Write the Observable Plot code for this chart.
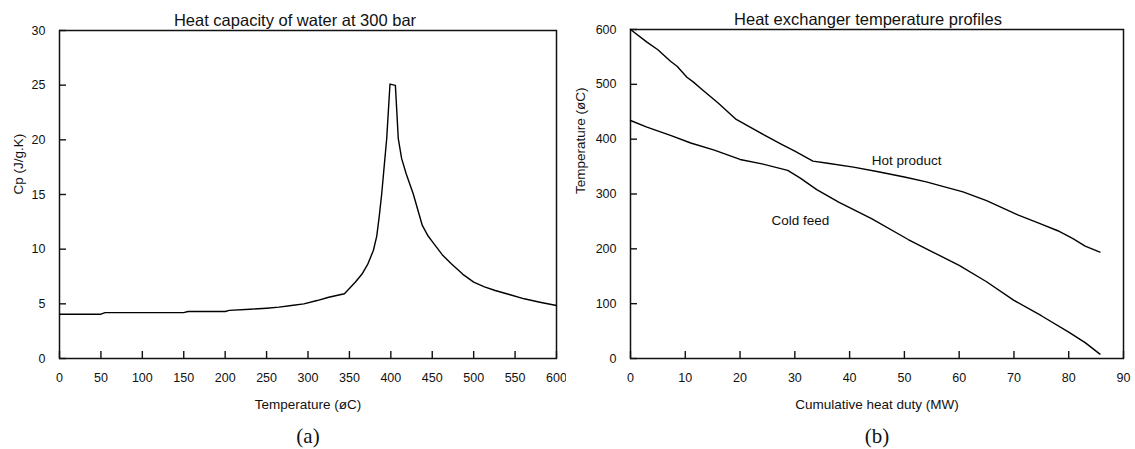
<!DOCTYPE html>
<html><head><meta charset="utf-8">
<script src="https://cdn.jsdelivr.net/npm/d3@7"></script>
<script src="https://cdn.jsdelivr.net/npm/@observablehq/plot@0.6"></script>
<style>
body{margin:0;background:#fff;}
#wrap{position:relative;width:1135px;height:449px;overflow:hidden;background:#fff;}
#a,#b{position:absolute;top:0;}
#a{left:0;} #b{left:566px;}
</style></head><body><div id="wrap"><div id="a"></div><div id="b"></div></div>
<script>
// Panel (a): heat capacity of water at 300 bar
const tempA = [0,50,55,150,155,200,205,230,250,265,280,295,311,325,344,357,365,372,379,383,386,389,392,395,397,399,405.5,409,413,418.5,427,438,445,451,462,473,487,500,513,526,543,561,580,600];
const cpA = [4.05,4.05,4.2,4.2,4.3,4.3,4.4,4.5,4.6,4.7,4.85,5.0,5.3,5.6,5.92,6.98,7.7,8.6,9.9,11.2,13.0,15.07,17.6,20.1,22.6,25.1,24.98,20.1,18.3,16.9,15.07,12.17,11.2,10.6,9.5,8.66,7.7,6.98,6.55,6.22,5.85,5.46,5.15,4.85];
const ticksAx = [0,50,100,150,200,250,300,350,400,450,500,550,600];
const ticksAy = [0,5,10,15,20,25,30];

// Panel (b): heat exchanger temperature profiles
const dutyHot = [0,3,5,7.3,8.5,10.3,11.5,13,16,19.3,22,24.7,27.5,30,33.3,36,40.7,45,50,54,57,60.7,65,70.7,75,78,80.7,83,85.7];
const tempHot = [600,577,563,542,533,513,504,491,466,436,421,406,391,378,360,356,349,341,331,322,314,304,288,262,245,233,219,205,194];
const dutyCold = [0,3,7.3,11,15.3,20,24,28.7,31,34,38,44,50.7,55,60,65,70,75,80,83,85.7];
const tempCold = [434,422,407,393,380,363,355,343,329,308,285,255,217,195,170,140,106,78,48,29,8];
const ticksBx = [0,10,20,30,40,50,60,70,80,90];
const ticksBy = [0,100,200,300,400,500,600];
const labelText = ["Hot product","Cold feed"];
const labelDuty = [50.4,31];
const labelTemp = [361,252];

const font = '"Liberation Sans", Arial, Helvetica, sans-serif';
const TICK = 7;

function panel(o){
  const frameW = o.width - o.ml - o.mr;
  const frameH = 449 - o.mt - 91;
  const [x0, x1] = o.xDomain, [y0, y1] = o.yDomain;
  const tx = (x1 - x0) * TICK / frameW;   // tick length in x data units
  const ty = (y1 - y0) * TICK / frameH;   // tick length in y data units
  return Plot.plot({
    width:o.width, height:449,
    marginLeft:o.ml, marginRight:o.mr, marginTop:o.mt, marginBottom:91,
    style:{fontFamily:font, fontSize:"12.5px", color:"#111", background:"white", overflow:"visible"},
    x:{domain:o.xDomain},
    y:{domain:o.yDomain},
    marks:[
      Plot.axisX({ticks:o.xTicks, tickSize:0, tickPadding:15, label:null, tickFormat:d=>String(d)}),
      Plot.axisY({ticks:o.yTicks, tickSize:0, tickPadding:14, label:null, tickFormat:d=>String(d)}),
      // inward-pointing tick marks
      Plot.ruleX(o.xTicks, {x:d=>d, y1:y0, y2:y0 + ty, stroke:"#111", strokeWidth:1.4}),
      Plot.ruleY(o.yTicks, {y:d=>d, x1:x0, x2:x0 + tx, stroke:"#111", strokeWidth:1.4}),
      Plot.frame({stroke:"#111", strokeWidth:1.5}),
      ...o.series.map(s=>Plot.line(s, {x:"x", y:"y", stroke:"#000", strokeWidth:1.4})),
      ...(o.labels ? [Plot.text(o.labels, {x:"x", y:"y", text:"t", fontSize:13.5, fill:"#111"})] : []),
      Plot.text([o.title], {frameAnchor:"top", lineAnchor:"middle", dy:-10, dx:o.titleDx, fontSize:16.5, fill:"#111"}),
      Plot.text([o.xLabel], {frameAnchor:"bottom", lineAnchor:"middle", dy:46, fontSize:13.5, fill:"#111"}),
      Plot.text([o.yLabel], {frameAnchor:"left", lineAnchor:"middle", dx:o.yLabelDx, rotate:-90, fontSize:13.5, fill:"#111"}),
      Plot.text([o.tag], {frameAnchor:"bottom", lineAnchor:"middle", dy:78, fontSize:21, fontFamily:'"Liberation Serif", "Times New Roman", serif', fill:"#111"})
    ]
  });
}

const seriesA = [tempA.map((t,i)=>({x:t, y:cpA[i]}))];
const seriesB = [
  dutyHot.map((q,i)=>({x:q, y:tempHot[i]})),
  dutyCold.map((q,i)=>({x:q, y:tempCold[i]}))
];
const labelsB = labelText.map((t,i)=>({t, x:labelDuty[i], y:labelTemp[i]}));

document.getElementById("a").appendChild(panel({
  width:566, ml:59, mr:10, mt:30,
  xDomain:[0,600], yDomain:[0,30], xTicks:ticksAx, yTicks:ticksAy,
  series:seriesA, title:"Heat capacity of water at 300 bar", titleDx:-13,
  xLabel:"Temperature (øC)", yLabel:"Cp (J/g.K)", yLabelDx:-41, tag:"(a)"
}));
document.getElementById("b").appendChild(panel({
  width:569, ml:64, mr:12, mt:29,
  xDomain:[0,90], yDomain:[0,600], xTicks:ticksBx, yTicks:ticksBy,
  series:seriesB, labels:labelsB, title:"Heat exchanger temperature profiles", titleDx:-9,
  xLabel:"Cumulative heat duty (MW)", yLabel:"Temperature (øC)", yLabelDx:-50, tag:"(b)"
}));
</script></body></html>
